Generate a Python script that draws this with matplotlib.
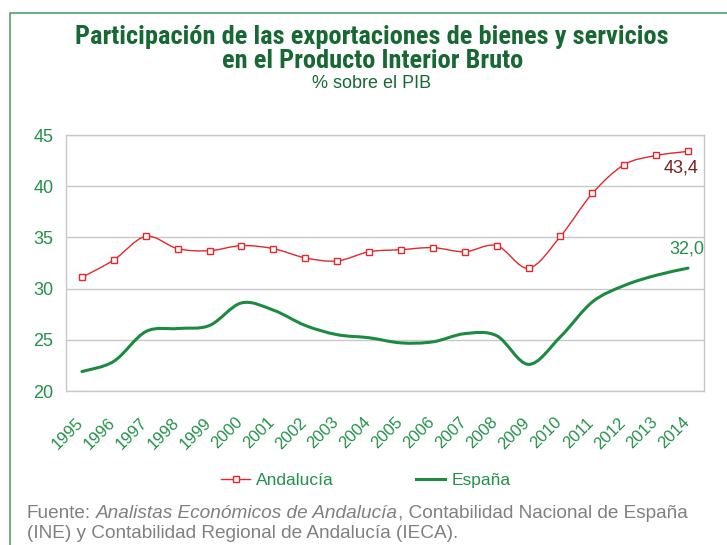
import matplotlib
matplotlib.use('Agg')
import matplotlib.pyplot as plt
import numpy as np
from matplotlib import font_manager
from matplotlib.path import Path
from matplotlib.patches import PathPatch, Rectangle
from matplotlib.lines import Line2D
from matplotlib.transforms import ScaledTranslation, blended_transform_factory

years = list(range(1995, 2015))
andalucia = [31.1, 32.8, 35.1, 33.9, 33.7, 34.2, 33.9, 33.0, 32.7, 33.6,
             33.8, 34.0, 33.6, 34.2, 32.0, 35.1, 39.3, 42.1, 43.0, 43.4]
espana = [21.9, 22.9, 25.8, 26.1, 26.4, 28.6, 27.9, 26.4, 25.5, 25.2,
          24.7, 24.8, 25.6, 25.4, 22.6, 25.3, 28.7, 30.3, 31.3, 32.0]
y_ticks = [20, 25, 30, 35, 40, 45]

GREEN_TXT = '#23914a'
GREEN_DARK = '#186834'
GREEN_LINE = '#1c8a41'
RED = '#e2282c'
GRID = '#c8c8c8'
GRAY = '#808080'

available = {f.name for f in font_manager.fontManager.ttflist}
plt.rcParams['font.family'] = ['Liberation Sans', 'DejaVu Sans']
title_font, title_size = 'Liberation Sans', 16.5
for name in ['Liberation Sans Narrow', 'Roboto Condensed', 'Open Sans Condensed',
             'DejaVu Sans Condensed']:
    if name in available:
        title_font, title_size = name, 19
        break


def smooth_path(xs, ys):
    # cubic bezier through the points (Excel-like smoothed line)
    pts = np.column_stack([xs, ys]).astype(float)
    n = len(pts)
    verts = [pts[0]]
    codes = [Path.MOVETO]
    for i in range(n - 1):
        p0 = pts[i - 1] if i > 0 else pts[i]
        p1 = pts[i]
        p2 = pts[i + 1]
        p3 = pts[i + 2] if i + 2 < n else pts[i + 1]
        verts += [p1 + (p2 - p0) / 6, p2 - (p3 - p1) / 6, p2]
        codes += [Path.CURVE4] * 3
    return Path(verts, codes)


fig = plt.figure(figsize=(7.27, 5.45), dpi=100)
ax = fig.add_axes([66 / 727, 1 - 391 / 545, 638 / 727, 256 / 545])

x = np.arange(len(years))
ax.add_patch(PathPatch(smooth_path(x, espana), facecolor='none', edgecolor=GREEN_LINE,
                       lw=2.2, capstyle='round', zorder=3))
ax.add_patch(PathPatch(smooth_path(x, andalucia), facecolor='none', edgecolor=RED,
                       lw=1.0, zorder=4))
ax.plot(x, andalucia, linestyle='none', marker='s', markersize=5, markerfacecolor='white',
        markeredgecolor=RED, markeredgewidth=1.0, zorder=5)

ax.set_xlim(-0.5, len(years) - 0.5)
ax.set_ylim(20, 45)
ax.set_yticks(y_ticks)
ax.set_xticks([])
ax.yaxis.grid(True, color=GRID, lw=1)
ax.set_axisbelow(True)
for s in ax.spines.values():
    s.set_color(GRID)
    s.set_linewidth(1)
ax.tick_params(axis='y', length=0, pad=9, labelsize=13, labelcolor=GREEN_TXT)

# rotated year labels
trans = blended_transform_factory(ax.transData, ax.transAxes) + \
    ScaledTranslation(-1 / 100, -29 / 100, fig.dpi_scale_trans)
for i, yr in enumerate(years):
    ax.text(i, 0, str(yr), transform=trans, rotation=45, rotation_mode='anchor',
            ha='right', va='center', fontsize=12, color=GREEN_TXT)

ax.annotate(f"{andalucia[-1]:.1f}".replace('.', ','), xy=(x[-1], andalucia[-1]),
            xytext=(10, -17), textcoords='offset pixels', ha='right', va='center',
            fontsize=13, color='#7b1e1e')
ax.annotate(f"{espana[-1]:.1f}".replace('.', ','), xy=(x[-1], espana[-1]),
            xytext=(16, 19), textcoords='offset pixels', ha='right', va='center',
            fontsize=13, color=GREEN_TXT)

handles = [Line2D([], [], color=RED, lw=1.0, marker='s', markersize=5,
                  markerfacecolor='white', markeredgecolor=RED),
           Line2D([], [], color=GREEN_LINE, lw=2.2)]
fig.legend(handles, ['Andalucía', 'España'], loc='center', bbox_to_anchor=(0.503, 0.119),
           ncol=2, frameon=False, handlelength=1.7, handletextpad=0.35, columnspacing=4.7,
           fontsize=12.5, labelcolor=GREEN_TXT)

fig.text(0.512, 1 - 49 / 545,
         'Participación de las exportaciones de bienes y servicios\nen el Producto Interior Bruto',
         ha='center', va='center', multialignment='center', linespacing=1.04,
         fontsize=title_size, fontweight='bold', family=title_font, color=GREEN_DARK)
fig.text(0.511, 1 - 84 / 545, '% sobre el PIB', ha='center', va='center',
         fontsize=13, color=GREEN_DARK)

# source note, part of it in italics
src_size = 13.7
t1 = fig.text(27 / 727, 1 - 513 / 545, 'Fuente:', ha='left', va='center',
              fontsize=src_size, color=GRAY)
a2 = ax.annotate('Analistas Económicos de Andalucía', xy=(1, 0), xycoords=t1,
                 xytext=(3.8, 0), textcoords='offset points', ha='left', va='bottom',
                 fontsize=src_size, color=GRAY, style='italic', annotation_clip=False)
ax.annotate(', Contabilidad Nacional de España', xy=(1, 0), xycoords=a2,
            ha='left', va='bottom', fontsize=src_size, color=GRAY, annotation_clip=False)
fig.text(27 / 727, 1 - 534 / 545, '(INE) y Contabilidad Regional de Andalucía (IECA).',
         ha='left', va='center', fontsize=src_size, color=GRAY)

fig.patches.append(Rectangle((10 / 727, -0.1), 2, 1 - 13 / 545 + 0.1, transform=fig.transFigure,
                             fill=False, edgecolor='#3f9a5f', lw=1.1))

fig.savefig('out.png', dpi=100)
